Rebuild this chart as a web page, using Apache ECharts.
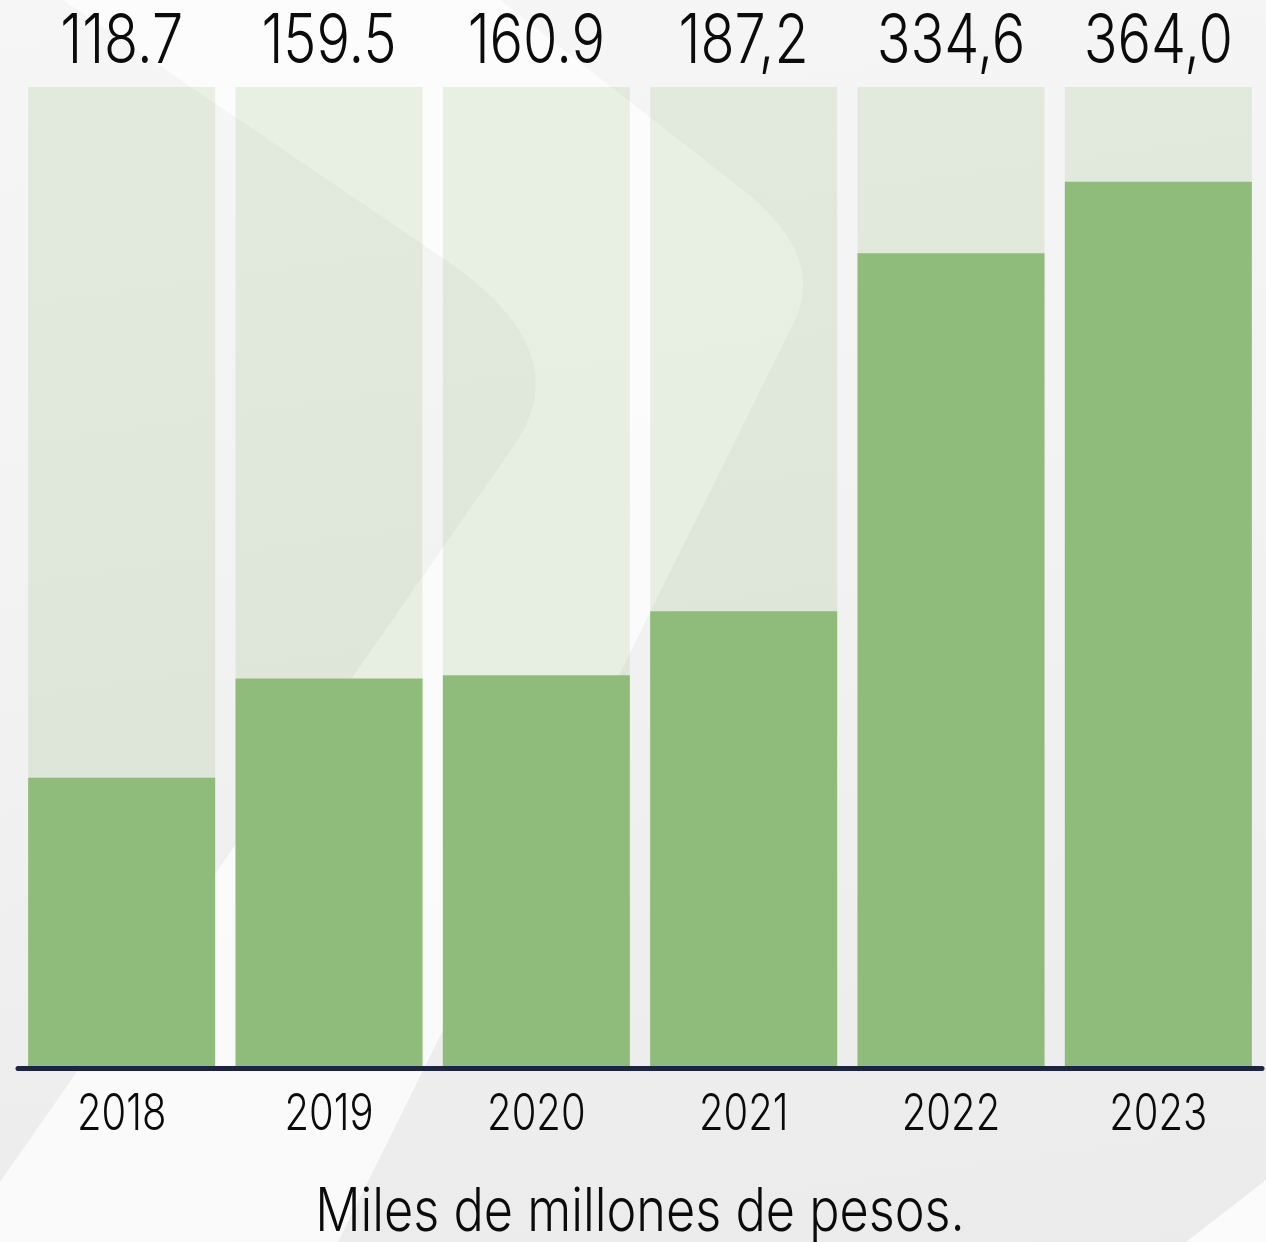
<!DOCTYPE html>
<html>
<head>
<meta charset="utf-8">
<script src="https://cdn.jsdelivr.net/npm/echarts@6/dist/echarts.min.js"></script>
<style>
  html, body { margin: 0; padding: 0; }
  #chart {
    width: 1266px;
    height: 1242px;
    background: linear-gradient(172deg, #f6f6f6 0%, #f2f2f2 45%, #ebebeb 100%);
  }
</style>
</head>
<body>
<div id="chart"></div>
<script>
// Annual amounts (miles de millones de pesos), as printed above each column
const years = ['2018', '2019', '2020', '2021', '2022', '2023'];
const valueLabels = ['118.7', '159.5', '160.9', '187,2', '334,6', '364,0'];
const values = valueLabels.map(s => parseFloat(s.replace(',', '.')));
const axisMax = 403;
const unitText = 'Miles de millones de pesos.';

const GREEN = '#8fbc7b';
const FONT = 'Inter, "Noto Sans", sans-serif';

const chart = echarts.init(document.getElementById('chart'), null, { renderer: 'canvas' });

chart.setOption({
  backgroundColor: 'transparent',
  animation: false,
  grid: { left: 18, width: 1244, top: 87, bottom: 176, containLabel: false },
  xAxis: {
    type: 'category',
    data: years,
    offset: 2.5,
    z: 5,
    axisLine: { show: true, onZero: false, lineStyle: { color: '#1c2444', width: 5 } },
    axisTick: { show: false },
    axisLabel: { show: false }
  },
  yAxis: {
    type: 'value',
    min: 0,
    max: axisMax,
    show: false,
    splitLine: { show: false }
  },
  series: [{
    type: 'bar',
    data: values,
    barWidth: 187,
    itemStyle: { color: GREEN },
    showBackground: true,
    backgroundStyle: { color: 'rgba(143,188,123,0.2)' },
    z: 2
  }]
});

// Soft sampled quadratic corner for the watermark outline
function quad(p0, c, p2, n) {
  const pts = [];
  for (let i = 1; i < n; i++) {
    const t = i / n, u = 1 - t;
    pts.push([u * u * p0[0] + 2 * u * t * c[0] + t * t * p2[0],
              u * u * p0[1] + 2 * u * t * c[1] + t * t * p2[1]]);
  }
  return pts;
}

// Pale chevron watermark behind the columns
const band = [].concat(
  [[63, 0], [450, 263]],
  quad([450, 263], [575, 350], [518, 440], 14),
  [[518, 440], [0, 1182], [0, 1242], [338, 1242], [796, 318]],
  quad([796, 318], [822, 258], [752, 197], 14),
  [[752, 197], [500, 0]]
);

const valueY = chart.convertToPixel({ yAxisIndex: 0 }, axisMax) - 44.5;
const baseY = chart.convertToPixel({ yAxisIndex: 0 }, 0);
const gridMid = chart.convertToPixel({ xAxisIndex: 0 }, years[0]) / 2 +
                chart.convertToPixel({ xAxisIndex: 0 }, years[years.length - 1]) / 2;

function label(text, x, y, size, scaleX) {
  return {
    type: 'text', x: x, y: y, scaleX: scaleX, z: 20,
    style: {
      text: text, fill: '#0b0b0b',
      font: '300 ' + size + 'px ' + FONT,
      align: 'center', verticalAlign: 'middle'
    }
  };
}

const graphics = [
  { type: 'polygon', z: -5, silent: true, shape: { points: band },
    style: { fill: 'rgba(255,255,255,0.7)' } },
  { type: 'polygon', z: -5, silent: true,
    shape: { points: [[1266, 1180], [1266, 1242], [1186, 1242]] },
    style: { fill: 'rgba(255,255,255,0.8)' } }
];

years.forEach((yr, i) => {
  const cx = chart.convertToPixel({ xAxisIndex: 0 }, yr);
  graphics.push(label(valueLabels[i], cx, valueY, 68, 0.82));
  graphics.push(label(yr, cx, baseY + 49, 50, 0.8));
});
graphics.push(label(unitText, gridMid, baseY + 147, 60, 0.84));

chart.setOption({ graphic: graphics });
</script>
</body>
</html>
